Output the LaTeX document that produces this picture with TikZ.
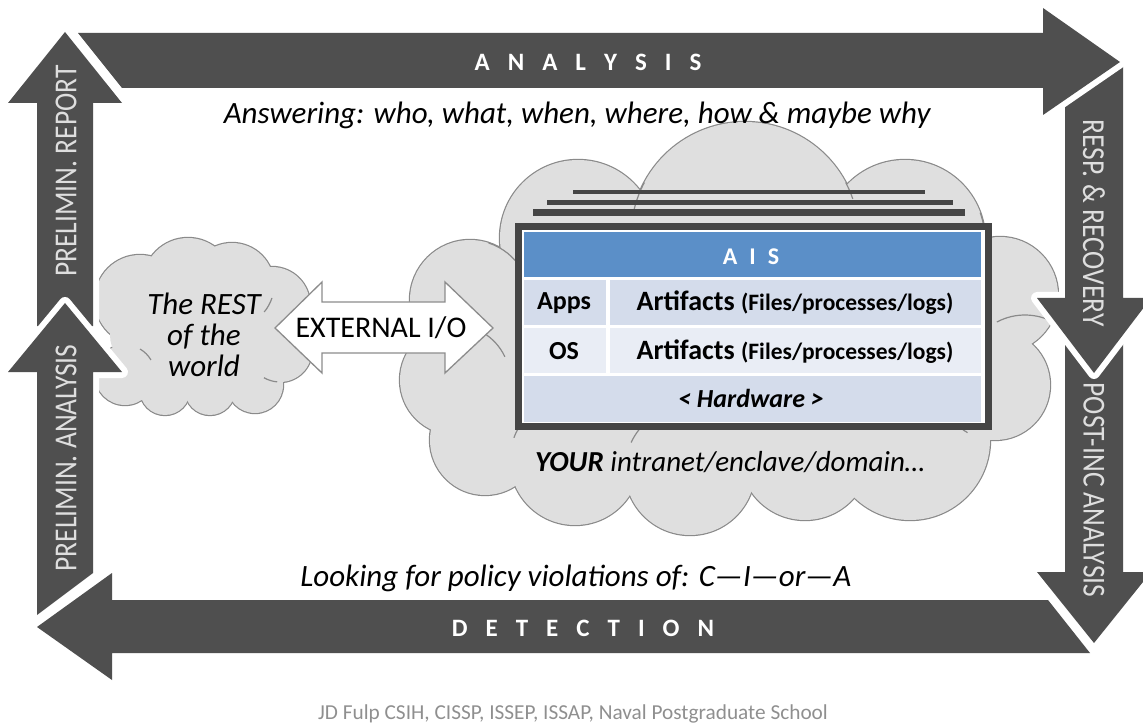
\documentclass[tikz,border=0pt]{standalone}
\usepackage{fontspec}
\setmainfont{Carlito}
\definecolor{arrowgray}{HTML}{4F4F4F}
\definecolor{labelgray}{HTML}{DEDEDE}
\definecolor{cloudfill}{HTML}{DFDFDF}
\definecolor{cloudline}{HTML}{8A8A8A}
\definecolor{framegray}{HTML}{454545}
\definecolor{aisblue}{HTML}{5B8FC8}
\definecolor{rowdark}{HTML}{D4DCEB}
\definecolor{rowlight}{HTML}{E9EDF5}
\definecolor{iooutline}{HTML}{8C8C8C}
\definecolor{footgray}{HTML}{8F8F8F}
\newcommand\gapk{\kern0.72em}
\newcommand\fsz[1]{\fontsize{#1}{#1}\selectfont}

\begin{document}
\begin{tikzpicture}[x=1pt,y=-1pt,
  bigarrow/.style={fill=arrowgray, preaction={draw=white, line width=12pt, line join=round}},
  bandtext/.style={text=white, font=\fsz{25}\bfseries, inner sep=0pt},
  sidetext/.style={text=labelgray, font=\fsz{32}, inner sep=0pt},
  note/.style={font=\fsz{31}\itshape, inner sep=0pt},
  cell/.style={font=\fsz{26}\bfseries, inner sep=0pt},
  puffline/.style={draw=cloudline, line width=2.4pt},
  pufffill/.style={fill=cloudfill},
  puffarc/.style={draw=cloudline, line width=1.2pt},
]
\useasboundingbox (0,0) rectangle (1143,727);
\clip (0,0) rectangle (1143,727);

% ---- small cloud: the rest of the world ----
\foreach \cx/\cy/\rr in {140/300/45, 188/283/45, 232/285/42, 272/305/38, 280/350/32,
                         255/385/28, 210/390/25, 165/390/25, 125/375/30}
  \draw[puffline] (\cx,\cy) circle[radius=\rr];
\foreach \cx/\cy/\rr in {140/300/45, 188/283/45, 232/285/42, 272/305/38, 280/350/32,
                         255/385/28, 210/390/25, 165/390/25, 125/375/30}
  \fill[pufffill] (\cx,\cy) circle[radius=\rr];
\fill[pufffill] (200,335) circle[x radius=90, y radius=55];
\coordinate (restcloud) at (200,335);
% inner puff creases
\draw[puffarc] (232,285) ++(18:42) arc[start angle=18, end angle=40, radius=42];
\draw[puffarc] (280,350) ++(95:32) arc[start angle=95, end angle=120, radius=32];
\draw[puffarc] (125,375) ++(-60:30) arc[start angle=-60, end angle=-30, radius=30];

% ---- big cloud: local network ----
\foreach \cx/\cy/\rr in {745/236/114, 578/238/78, 905/240/80, 1000/295/58, 995/385/55,
                         910/440/80, 805/455/65, 690/470/65, 575/460/65, 485/440/55,
                         455/380/55, 470/300/60}
  \draw[puffline] (\cx,\cy) circle[radius=\rr];
\foreach \cx/\cy/\rr in {745/236/114, 578/238/78, 905/240/80, 1000/295/58, 995/385/55,
                         910/440/80, 805/455/65, 690/470/65, 575/460/65, 485/440/55,
                         455/380/55, 470/300/60}
  \fill[pufffill] (\cx,\cy) circle[radius=\rr];
\fill[pufffill] (720,350) circle[x radius=250, y radius=130];
\coordinate (netcloud) at (720,350);
% inner puff creases
\draw[puffarc] (745,236) ++(208:114) arc[start angle=208, end angle=192, radius=114];
\draw[puffarc] (745,236) ++(332:114) arc[start angle=332, end angle=341, radius=114];
\draw[puffarc] (470,300) ++(-72:60) arc[start angle=-72, end angle=-30, radius=60];
\draw[puffarc] (905,240) ++(-20:80) arc[start angle=-20, end angle=5, radius=80];
\draw[puffarc] (1025,375) ++(-118:60) arc[start angle=-118, end angle=-60, radius=60];
\draw[puffarc] (455,380) ++(-60:55) arc[start angle=-60, end angle=-25, radius=55];
\draw[puffarc] (690,470) ++(205:65) arc[start angle=205, end angle=228, radius=65];
\draw[puffarc] (805,455) ++(208:65) arc[start angle=208, end angle=232, radius=65];
\draw[puffarc] (910,440) ++(205:80) arc[start angle=205, end angle=225, radius=80];
\draw[puffarc] (575,460) ++(200:65) arc[start angle=200, end angle=225, radius=65];
\draw[puffarc] (995,385) ++(120:55) arc[start angle=120, end angle=150, radius=55];

% ---- external I/O double arrow ----
\path[draw=iooutline, line width=1.3pt, fill=white, line join=miter]
  (275,328) -- (322,282) -- (322,302) -- (445,302) -- (445,282) -- (493,328)
  -- (445,373) -- (445,353) -- (322,353) -- (322,373) -- cycle;
\node[font=\fsz{30}, inner sep=0pt] (extio) at (381,328) {EXTERNAL I/O};

% ---- stacked systems behind the AIS window ----
\draw[framegray, line width=4pt] (573,192) -- (925,192);
\draw[framegray, line width=5pt] (547,203) -- (953,203);
\draw[framegray, line width=7pt] (533,213) -- (965,213);

% ---- AIS window ----
\draw[framegray, line width=7pt, fill=white] (518.5,226.5) rectangle (988.5,426.5);
\fill[aisblue] (524,232) rectangle (981,277);
\fill[rowdark] (524,280) rectangle (606,325);
\fill[rowdark] (610,280) rectangle (981,325);
\fill[rowlight] (524,328) rectangle (606,373);
\fill[rowlight] (610,328) rectangle (981,373);
\fill[rowdark] (524,376) rectangle (981,422);
\node[text=white, font=\fsz{24}\bfseries, inner sep=0pt] (ais) at (751,257) {A\kern0.5em I\kern0.5em S};
\node[cell] (apps) at (564,303) {Apps};
\node[cell] (os) at (564,351) {OS};
\node[inner sep=0pt] (artapps) at (795,303) {\fsz{28}\bfseries Artifacts \fsz{23.5}(Files/processes/logs)};
\node[inner sep=0pt] (artos) at (795,352) {\fsz{28}\bfseries Artifacts \fsz{23.5}(Files/processes/logs)};
\node[cell, font=\fsz{26}\bfseries\itshape] (hw) at (751,398) {< Hardware >};

% ---- cloud texts ----
\node[font=\fsz{31}\itshape, align=center, inner sep=0pt] (rest) at (204,335)
  {\fontsize{31}{36}\selectfont The REST\\of the\\world};
\node[note, font=\fsz{29}\itshape] (your) at (730,462) {\textbf{YOUR} intranet/enclave/domain…};

% ---- phase arrows ----
% detection (bottom, pointing left)
\path[bigarrow] (37,627) -- (112,573) -- (112,600) -- (1048,600) -- (1090,653)
  -- (112,653) -- (112,680) -- cycle;
% post-incident analysis (right, lower)
\path[bigarrow] (1065,335) -- (1123,335) -- (1123,572) -- (1151,572) -- (1094,643)
  -- (1037,572) -- (1065,572) -- cycle;
% response & recovery (right, upper)
\path[bigarrow] (1065,66) -- (1123,66) -- (1123,298) -- (1151,298) -- (1094,373)
  -- (1037,298) -- (1065,298) -- cycle;
% preliminary report (left, upper)
\path[bigarrow] (65,32) -- (122,103) -- (93,103) -- (93,326) -- (37,326)
  -- (37,103) -- (8,103) -- cycle;
% preliminary analysis (left, lower)
\path[bigarrow] (65,303) -- (122,372) -- (93,372) -- (93,573) -- (37,615)
  -- (37,372) -- (8,372) -- cycle;
% analysis (top, pointing right)
\path[bigarrow] (78,33) -- (1043,33) -- (1043,8) -- (1120,62) -- (1043,115)
  -- (1043,88) -- (122,88) -- cycle;

\node[bandtext] (analysis) at (588,62) {A\gapk N\gapk A\gapk L\gapk Y\gapk S\gapk I\gapk S};
\node[bandtext] (detection) at (583,628) {D\gapk E\gapk T\gapk E\gapk C\gapk T\gapk I\gapk O\gapk N};
\node[sidetext, rotate=90] (report) at (66,171) {\scalebox{0.86}[1]{PRELIMIN. REPORT}};
\node[sidetext, rotate=90] (prelim) at (66,458) {\scalebox{0.86}[1]{PRELIMIN. ANALYSIS}};
\node[sidetext, rotate=-90] (resp) at (1094,223) {\scalebox{0.86}[1]{RESP. \& RECOVERY}};
\node[sidetext, rotate=-90] (post) at (1094,490) {\scalebox{0.86}[1]{POST-INC ANALYSIS}};

% ---- captions ----
\node[note] (answering) at (577,115) {Answering: who, what, when, where, how \& maybe why};
\node[note] (looking) at (576,578) {Looking for policy violations of: C—I—or—A};
\node[text=footgray, font=\fsz{21.3}, inner sep=0pt] (credit) at (573,714)
  {JD Fulp CSIH, CISSP, ISSEP, ISSAP, Naval Postgraduate School};
\end{tikzpicture}
\end{document}
